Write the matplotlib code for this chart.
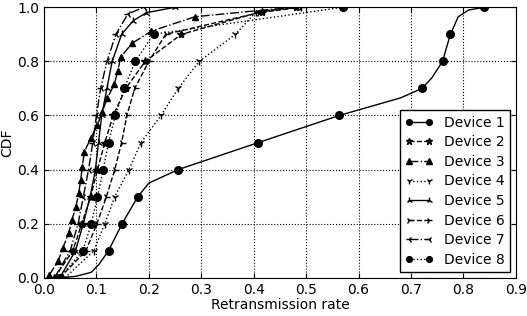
import matplotlib.pyplot as plt
import numpy as np

plt.rcParams['xtick.direction'] = 'in'
plt.rcParams['ytick.direction'] = 'in'
plt.rcParams['xtick.top'] = True
plt.rcParams['ytick.right'] = True
plt.rcParams['font.size'] = 10

# CDF levels and retransmission rates
cdf_dec = [0.0, 0.1, 0.2, 0.3, 0.4, 0.5, 0.6, 0.7, 0.8, 0.9, 1.0]

# device 1 with a few extra points in between the markers (smooth curve)
dev1_x = [0.03, 0.06, 0.09, 0.105, 0.123, 0.149, 0.179, 0.20, 0.256, 0.409, 0.563,
          0.68, 0.721, 0.74, 0.76, 0.775, 0.79, 0.81, 0.84]
dev1_y = [0.0, 0.005, 0.02, 0.05, 0.1, 0.2, 0.3, 0.35, 0.4, 0.5, 0.6,
          0.665, 0.7, 0.74, 0.8, 0.9, 0.965, 0.99, 1.0]
dev1_marks = [0, 4, 5, 6, 8, 9, 10, 12, 14, 15, 18]

dev2 = [0.02, 0.055, 0.072, 0.089, 0.102, 0.116, 0.132, 0.156, 0.193, 0.262, 0.415, 0.48]
dev2_y = cdf_dec[:10] + [0.984, 1.0]
dev4 = [0.04, 0.095, 0.116, 0.135, 0.162, 0.185, 0.223, 0.256, 0.296, 0.365, 0.405, 0.49]
dev4_y = cdf_dec[:10] + [0.984, 1.0]
dev5 = [0.03, 0.06, 0.075, 0.088, 0.098, 0.104, 0.110, 0.120, 0.130, 0.148, 0.17, 0.195, 0.25]
dev5_y = cdf_dec[:10] + [0.95, 0.98, 1.0]
dev6 = [0.03, 0.08, 0.101, 0.119, 0.135, 0.148, 0.158, 0.173, 0.200, 0.232, 0.41, 0.49]
dev6_y = cdf_dec[:10] + [0.98, 1.0]
dev7 = [0.02, 0.05, 0.065, 0.075, 0.085, 0.093, 0.100, 0.108, 0.120, 0.137, 0.16, 0.19]
dev7_y = cdf_dec[:10] + [0.975, 1.0]
dev8 = [0.03, 0.074, 0.090, 0.102, 0.113, 0.123, 0.136, 0.153, 0.174, 0.209, 0.57]

# device 3 has a marker every ~5% of the CDF
dev3_x = [0.010, 0.027, 0.036, 0.047, 0.053, 0.061, 0.066, 0.070, 0.073, 0.077, 0.089,
          0.102, 0.111, 0.121, 0.134, 0.141, 0.146, 0.168, 0.205, 0.288, 0.42, 0.48]
dev3_y = [0.010, 0.062, 0.111, 0.164, 0.213, 0.263, 0.312, 0.361, 0.410, 0.466, 0.515,
          0.565, 0.614, 0.665, 0.715, 0.766, 0.815, 0.867, 0.912, 0.965, 0.99, 1.0]

fig = plt.figure(figsize=(5.27, 3.16), dpi=100)
ax = fig.add_axes([0.0835, 0.121, 0.8955, 0.856])

ax.plot(dev1_x, dev1_y, 'k-o', ms=5.5, lw=1, markevery=dev1_marks, label='Device 1')
ax.plot(dev2, dev2_y, 'k--*', ms=6, lw=1, label='Device 2')
ax.plot(dev3_x, dev3_y, 'k-.^', ms=5, lw=1, markevery=list(range(20)), label='Device 3')
ax.plot(dev4, dev4_y, 'k:1', ms=6, lw=1, label='Device 4')
ax.plot(dev5, dev5_y, 'k-2', ms=6, lw=1, label='Device 5')
ax.plot(dev6, dev6_y, 'k--4', ms=6, lw=1, label='Device 6')
ax.plot(dev7, dev7_y, 'k-.3', ms=6, lw=1, label='Device 7')
ax.plot(dev8, cdf_dec, 'k:o', ms=5.5, lw=1, label='Device 8')

ax.set_xlim(0, 0.9)
ax.set_ylim(0, 1.0)
ax.set_xticks(np.arange(0, 0.91, 0.1))
ax.set_yticks(np.arange(0, 1.01, 0.2))
ax.grid(True, color='k', linestyle=':', lw=0.8)
ax.set_xlabel('Retransmission rate', fontsize=10, labelpad=1)
ax.set_ylabel('CDF', fontsize=10, labelpad=2)

ax.legend(loc='lower right', numpoints=2, fontsize=10, fancybox=False,
          edgecolor='k', framealpha=1, borderaxespad=0.4, handlelength=2,
          labelspacing=0.4, markerscale=0.75)

plt.savefig('out.png', dpi=100)
